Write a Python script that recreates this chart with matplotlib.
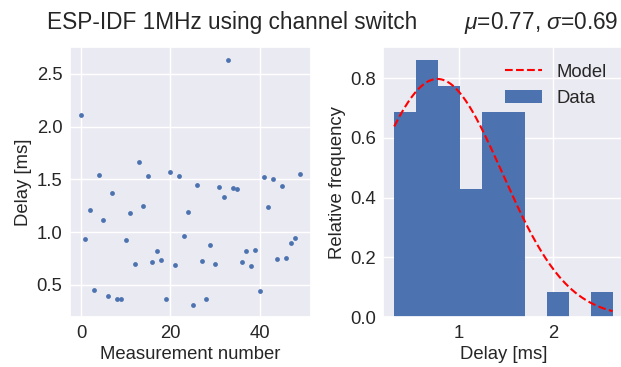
import numpy as np
import matplotlib
matplotlib.use("Agg")
import matplotlib.pyplot as plt
import seaborn as sns

# Measured delays [ms] per measurement number
delays = [2.115, 0.939, 1.207, 0.456, 1.544, 1.118, 0.393, 1.368, 0.371, 0.367,
          0.929, 1.185, 0.702, 1.661, 1.250, 1.532, 0.721, 0.822, 0.740, 0.364,
          1.569, 0.689, 1.528, 0.961, 1.191, 0.310, 1.450, 0.730, 0.371, 0.882,
          0.702, 1.431, 1.336, 2.636, 1.421, 1.409, 0.721, 0.822, 0.683, 0.831,
          0.443, 1.519, 1.235, 1.500, 0.749, 1.440, 0.759, 0.901, 0.948, 1.550]
measurement = list(range(len(delays)))

# Gaussian model fitted to histogram
model_mu = 0.77
model_sigma = 0.69
model_amp = 0.797
n_bins = 10

title_left = "ESP-IDF 1MHz using channel switch"
title_right = r"$\mu$=0.77, $\sigma$=0.69"

sns.set_theme(style="darkgrid")
plt.rcParams['font.family'] = ['Liberation Sans', 'DejaVu Sans']
plt.rcParams['mathtext.fontset'] = 'custom'
plt.rcParams['mathtext.it'] = 'Liberation Sans:italic'
plt.rcParams['mathtext.rm'] = 'Liberation Sans'

blue = "#4C72B0"
FS = 13.3
fig = plt.figure(figsize=(6.21, 3.67), dpi=100)
ax1 = fig.add_axes([70/621, 1-317.3/367, 240.7/621, 270/367])
ax2 = fig.add_axes([383.3/621, 1-317.3/367, 240.2/621, 270/367])

ax1.scatter(measurement, delays, s=12, color=blue, linewidths=0)
ax1.set_xlabel("Measurement number", fontsize=FS, labelpad=3)
ax1.set_ylabel("Delay [ms]", fontsize=FS, labelpad=3)
ax1.set_yticks([0.5, 1.0, 1.5, 2.0, 2.5])
ax1.set_xticks([0, 20, 40])
ax1.tick_params(labelsize=FS, length=0, pad=5.5)

ax2.hist(delays, bins=n_bins, density=True, color=blue, label="Data",
         edgecolor="none", linewidth=0)
xs = np.linspace(min(delays), max(delays), 200)
ax2.plot(xs, model_amp*np.exp(-(xs-model_mu)**2/(2*model_sigma**2)),
         color="#FF0000", linestyle="--", label="Model", lw=1.5)
ax2.set_xlabel("Delay [ms]", fontsize=FS, labelpad=3)
ax2.set_ylabel("Relative frequency", fontsize=FS, labelpad=3)
ax2.set_xticks([1, 2])
ax2.set_yticks([0.0, 0.2, 0.4, 0.6, 0.8])
ax2.tick_params(labelsize=FS, length=0, pad=5.5)
h, l = ax2.get_legend_handles_labels()
ax2.legend(h[::-1], l[::-1], loc="upper right", frameon=False, fontsize=FS)

fig.text(47/621, 1-28.5/367, title_left, fontsize=16.3, ha="left", va="baseline")
fig.text(618/621, 1-28.5/367, title_right, fontsize=16.3, ha="right", va="baseline")

fig.savefig("out.png", dpi=100)
